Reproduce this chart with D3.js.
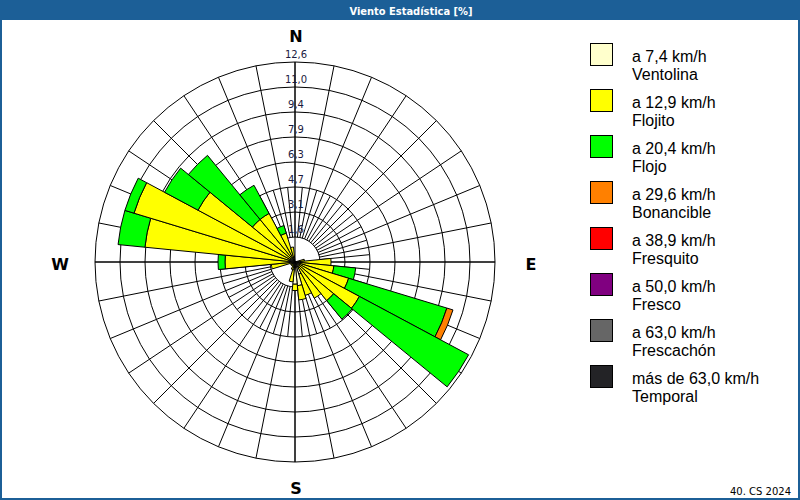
<!DOCTYPE html>
<html>
<head>
<meta charset="utf-8">
<script src="https://cdn.jsdelivr.net/npm/d3@7/dist/d3.min.js"></script>
<style>
  html, body { margin: 0; padding: 0; background: #fff; }
  svg { display: block; }
</style>
</head>
<body>
<svg id="chart" width="800" height="500"></svg>
<script>
// ---------- data ----------
const title = "Viento Estadística [%]";
const footer = "40. CS 2024";
// 32 directions, clockwise from north (11.25° each)
const directions = d3.range(32).map(i => i * 11.25);
const compassLabels = ["N", "E", "S", "W"];
const compassAngles = [0, 90, 180, 270];
const ringValues = [1.575, 3.15, 4.725, 6.3, 7.875, 9.45, 11.025, 12.6];
const ringLabels = ["1,6", "3,1", "4,7", "6,3", "7,9", "9,4", "11,0", "12,6"];
const speedLabels = ["a 7,4 km/h", "a 12,9 km/h", "a 20,4 km/h", "a 29,6 km/h",
                     "a 38,9 km/h", "a 50,0 km/h", "a 63,0 km/h", "más de 63,0 km/h"];
const classNames = ["Ventolina", "Flojito", "Flojo", "Bonancible",
                    "Fresquito", "Fresco", "Frescachón", "Temporal"];
const classColors = ["#ffffcc", "#ffff00", "#00ff00", "#ff8000",
                     "#ff0000", "#800080", "#666666", "#232326"];

// percentage per direction for each speed class
const ventolina  = [0,0,0,0,0,0,0,0.2, 0.3,0.3,0.3,0.3,0.3,0.4,0.8,1.5, 1.4,0.5,0.3,0.2,0.2,0.2,0.2,0.3, 0.3,0.4,0.4,0.3,0.3,0.3,0.3,0.2];
const flojito    = [0,0,0,0,0,0,0,0.4, 1.97,2.16,3.23,4.3,2.85,2.18,1.4,0.9, 0.4,0.76,0.2,0.1,0.1,0.1,0.1,1.2, 4.11,9.1,10.2,6.63,3.17,3.17,1.6,0.75];
const flojo      = [0,0,0,0,0,0,0,0, 0,1.38,6.47,7.8,1.51,0,0,0, 0,0,0,0,0,0,0,0, 0.44,1.7,0.6,2.39,5.22,2.01,0.5,0];
const bonancible = [0,0,0,0,0,0,0,0, 0,0,0.4,0,0,0,0,0, 0,0,0,0,0,0,0,0, 0,0,0,0,0,0,0,0];
const fresquito  = new Array(32).fill(0);
const fresco     = new Array(32).fill(0);
const frescachon = new Array(32).fill(0);
const temporal   = new Array(32).fill(0);
const series = [ventolina, flojito, flojo, bonancible, fresquito, fresco, frescachon, temporal];

// ---------- layout ----------
const W = 800, H = 500;
const blue = "#1c5f97";
const cx = 295, cy = 262, R = 200;
const maxVal = 12.6;

const svg = d3.select("#chart");
svg.append("rect").attr("x", 0).attr("y", 0).attr("width", W).attr("height", H).attr("fill", blue);
svg.append("rect").attr("x", 2).attr("y", 20).attr("width", W - 4).attr("height", H - 22).attr("fill", "#fff");
svg.append("text").attr("x", 411).attr("y", 14.5).attr("text-anchor", "middle")
  .attr("fill", "#fff").attr("font-family", "DejaVu Sans Condensed, DejaVu Sans")
  .attr("font-weight", "bold").attr("font-size", 11).text(title);

const r = d3.scaleLinear().domain([0, maxVal]).range([0, R]);
const toRad = d => d * Math.PI / 180;

const g = svg.append("g").attr("transform", `translate(${cx},${cy})`);

// grid
const grid = g.append("g").attr("stroke", "#000").attr("stroke-width", 1).attr("fill", "none");
ringValues.forEach(v => grid.append("circle").attr("r", r(v)));
const spokeDirs = d3.range(64).map(i => i * 5.625);
spokeDirs.forEach((a, i) => {
  const r0 = r(ringValues[0]);
  const r1 = (i % 2 === 0) ? R : r(ringValues[2]);
  const s = Math.sin(toRad(a)), c = -Math.cos(toRad(a));
  grid.append("line").attr("x1", r0 * s).attr("y1", r0 * c).attr("x2", r1 * s).attr("y2", r1 * c);
});
// main axes through the center
grid.append("line").attr("x1", -R).attr("y1", 0).attr("x2", R).attr("y2", 0);
grid.append("line").attr("x1", 0).attr("y1", -R).attr("x2", 0).attr("y2", R);

// bars
const arc = d3.arc();
const half = toRad(11.25 / 2);
const bars = g.append("g");
directions.forEach((a, i) => {
  let cum = 0;
  series.forEach((s, k) => {
    const v = s[i];
    if (v <= 0) return;
    const p = arc({innerRadius: r(cum), outerRadius: r(cum + v),
                   startAngle: toRad(a) - half, endAngle: toRad(a) + half});
    bars.append("path").attr("d", p).attr("fill", classColors[k])
      .attr("stroke", "#000").attr("stroke-width", 1).attr("stroke-linejoin", "miter");
    cum += v;
  });
});

// ring labels along north axis
g.append("g").selectAll("text").data(ringValues).join("text")
  .attr("x", 1).attr("y", v => -r(v) - 4.5)
  .attr("text-anchor", "middle").attr("font-family", "DejaVu Sans").attr("font-size", 10)
  .attr("fill", "#1a1a40").text((v, i) => ringLabels[i]);

// compass labels
const compassPos = [[1, -220], [236, 8], [1, 232], [-235, 8]];
g.append("g").selectAll("text").data(compassLabels).join("text")
  .attr("x", (d, i) => compassPos[i][0]).attr("y", (d, i) => compassPos[i][1])
  .attr("text-anchor", "middle").attr("font-family", "DejaVu Sans").attr("font-weight", "bold")
  .attr("font-size", 16).attr("fill", "#000").text(d => d);

// legend
const lg = svg.append("g").attr("transform", "translate(590,43)");
classNames.forEach((name, k) => {
  const y = k * 46;
  lg.append("rect").attr("x", 0.5).attr("y", y + 0.5).attr("width", 22).attr("height", 22)
    .attr("fill", classColors[k]).attr("stroke", "#000").attr("stroke-width", 1);
  lg.append("text").attr("x", 42).attr("y", y + 19).attr("font-family", "Liberation Sans, Arial")
    .attr("font-size", 16).attr("fill", "#000").text(speedLabels[k]);
  lg.append("text").attr("x", 42).attr("y", y + 37).attr("font-family", "Liberation Sans, Arial")
    .attr("font-size", 16).attr("fill", "#000").text(name);
});

// footer
svg.append("text").attr("x", 791).attr("y", 494.5).attr("text-anchor", "end")
  .attr("font-family", "DejaVu Sans").attr("font-size", 10).attr("fill", "#000").text(footer);
</script>
</body>
</html>
